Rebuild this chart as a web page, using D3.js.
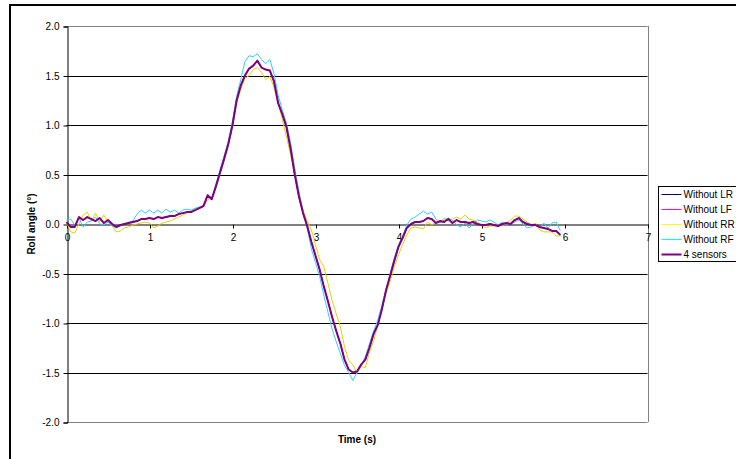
<!DOCTYPE html>
<html>
<head>
<meta charset="utf-8">
<script src="https://cdn.jsdelivr.net/npm/d3@7"></script>
<style>
  body { margin: 0; background: #fff; }
  svg { display: block; font-family: Arial, "Liberation Sans", sans-serif; }
</style>
</head>
<body>
<svg id="chart" width="736" height="459"></svg>
<script>
// Sample step of the recorded signals (s)
const dt = 0.05;

// Roll angle (deg), one value every 0.05 s from t = 0
const fourSensors = [
  0.02, -0.03, -0.03, 0.07, 0.04, 0.07, 0.05, 0.03, 0.06, 0.01,
  0.04, 0.00, -0.03, -0.01, 0.00, 0.01, 0.02, 0.03, 0.05, 0.05,
  0.06, 0.05, 0.07, 0.06, 0.07, 0.08, 0.08, 0.10, 0.11, 0.12,
  0.12, 0.14, 0.16, 0.18, 0.29, 0.25, 0.38, 0.52, 0.66, 0.81,
  1.00, 1.25, 1.40, 1.50, 1.57, 1.60, 1.65, 1.58, 1.56, 1.55,
  1.44, 1.22, 1.11, 0.98, 0.76, 0.50, 0.28, 0.11, -0.02, -0.18,
  -0.32, -0.46, -0.63, -0.78, -0.94, -1.08, -1.21, -1.37, -1.47, -1.50,
  -1.49, -1.42, -1.37, -1.25, -1.11, -1.02, -0.86, -0.67, -0.52, -0.37,
  -0.23, -0.14, -0.04, 0.00, 0.02, 0.02, 0.03, 0.06, 0.05, 0.01,
  0.03, 0.02, 0.05, 0.01, 0.04, 0.02, 0.02, 0.01, 0.02, 0.00,
  -0.01, -0.01, 0.00, -0.01, -0.02, 0.00, 0.01, 0.00, 0.04, 0.06,
  0.02, 0.00, -0.01, -0.01, -0.03, -0.04, -0.05, -0.07, -0.07, -0.11
];

const withoutRF = [
  0.04, 0.05, -0.01, 0.06, -0.03, 0.02, 0.03, 0.07, 0.00, -0.01,
  0.02, -0.02, -0.04, -0.02, 0.00, 0.02, 0.03, 0.10, 0.14, 0.11,
  0.14, 0.11, 0.14, 0.11, 0.15, 0.12, 0.14, 0.11, 0.14, 0.15,
  0.14, 0.16, 0.17, 0.19, 0.28, 0.27, 0.40, 0.55, 0.69, 0.84,
  1.04, 1.29, 1.46, 1.64, 1.70, 1.69, 1.72, 1.66, 1.62, 1.66,
  1.52, 1.30, 1.15, 1.02, 0.82, 0.56, 0.33, 0.13, -0.04, -0.25,
  -0.39, -0.53, -0.72, -0.89, -1.06, -1.19, -1.31, -1.43, -1.50, -1.58,
  -1.50, -1.43, -1.34, -1.21, -1.08, -0.97, -0.82, -0.66, -0.50, -0.34,
  -0.21, -0.12, -0.01, 0.05, 0.07, 0.10, 0.13, 0.10, 0.12, 0.05,
  0.01, 0.04, 0.06, 0.04, -0.01, -0.03, 0.01, -0.04, 0.00, 0.04,
  0.03, 0.02, 0.04, 0.02, -0.01, 0.02, -0.01, 0.00, 0.02, 0.04,
  0.00, -0.04, -0.03, -0.01, -0.04, 0.01, -0.04, 0.01, 0.02, -0.07
];

const withoutRR = [
  0.02, -0.08, -0.09, 0.00, 0.09, 0.12, 0.03, 0.11, 0.02, 0.09,
  0.02, -0.02, -0.08, -0.07, -0.04, -0.03, -0.01, 0.00, 0.01, 0.02,
  0.01, -0.04, -0.02, 0.01, 0.02, 0.03, 0.05, 0.07, 0.09, 0.11,
  0.13, 0.15, 0.17, 0.18, 0.24, 0.27, 0.36, 0.50, 0.64, 0.79,
  0.97, 1.22, 1.36, 1.47, 1.50, 1.56, 1.58, 1.53, 1.46, 1.49,
  1.38, 1.22, 1.06, 0.88, 0.70, 0.50, 0.30, 0.14, 0.03, -0.06,
  -0.21, -0.36, -0.43, -0.60, -0.77, -0.91, -1.04, -1.24, -1.38, -1.42,
  -1.51, -1.44, -1.45, -1.30, -1.18, -1.03, -0.87, -0.70, -0.58, -0.43,
  -0.31, -0.21, -0.11, -0.04, -0.03, -0.04, -0.05, 0.02, -0.01, 0.02,
  0.01, 0.06, 0.03, 0.05, 0.07, 0.05, 0.09, 0.05, 0.04, 0.02,
  -0.01, -0.04, -0.02, -0.02, -0.01, -0.02, 0.01, 0.04, 0.08, 0.08,
  0.05, 0.02, -0.01, 0.01, -0.06, -0.08, -0.08, -0.08, -0.12, -0.12
];

// LR and LF runs are indistinguishable from the 4-sensor run in the picture
const withoutLR = fourSensors;
const withoutLF = fourSensors;

const seriesNames = ["Without LR", "Without LF", "Without RR", "Without RF", "4 sensors"];
const seriesColors = ["#000080", "#FF00FF", "#D8D800", "#33CCFF", "#800080"];
const legendColors = ["#000080", "#FF00FF", "#FFFF00", "#00FFFF", "#800080"];
const seriesWidths = [1, 1, 1, 1, 2];
const seriesValues = [withoutLR, withoutLF, withoutRR, withoutRF, fourSensors];

const xTicks = [0, 1, 2, 3, 4, 5, 6, 7];
const yTicks = [-2.0, -1.5, -1.0, -0.5, 0.0, 0.5, 1.0, 1.5, 2.0];

const svg = d3.select("#chart");

// outer chart frame
svg.append("rect")
  .attr("x", 10).attr("y", 5)
  .attr("width", 740).attr("height", 470)
  .attr("fill", "#fff")
  .attr("stroke", "#000")
  .attr("stroke-width", 2);

const plot = { left: 66.5, right: 647.5, top: 26, bottom: 422 };

const x = d3.scaleLinear().domain([0, 7]).range([plot.left, plot.right]);
const y = d3.scaleLinear().domain([-2, 2]).range([plot.bottom, plot.top]);

// gridlines
svg.append("g")
  .selectAll("line")
  .data(yTicks.filter(v => v !== 0))
  .join("line")
  .attr("x1", plot.left).attr("x2", plot.right)
  .attr("y1", d => Math.round(y(d)) + 0.5)
  .attr("y2", d => Math.round(y(d)) + 0.5)
  .attr("stroke", d => Math.abs(d) === 2 ? "#808080" : "#000")
  .attr("stroke-width", 1);

// plot area right border
svg.append("line")
  .attr("x1", Math.round(plot.right) + 0.5).attr("x2", Math.round(plot.right) + 0.5)
  .attr("y1", y(2)).attr("y2", y(-2))
  .attr("stroke", "#808080");

// y axis (plain hyphen for negative labels)
const yAxis = d3.axisLeft(y)
  .tickValues(yTicks)
  .tickFormat(d => d.toFixed(1))
  .tickSize(4)
  .tickPadding(4);

svg.append("g")
  .attr("transform", `translate(${Math.round(plot.left) + 0.5},0.5)`)
  .call(yAxis)
  .call(g => g.selectAll("text").attr("font-size", 10).attr("fill", "#000").attr("font-family", null))
  .call(g => g.selectAll("line,path").attr("stroke", "#000"));

// x axis at y = 0
const xAxis = d3.axisBottom(x)
  .tickValues(xTicks)
  .tickFormat(d => String(d))
  .tickSizeInner(4)
  .tickSizeOuter(0)
  .tickPadding(5);

svg.append("g")
  .attr("transform", `translate(0.5,${Math.round(y(0)) + 0.5})`)
  .call(xAxis)
  .call(g => g.selectAll("text").attr("font-size", 10).attr("fill", "#000").attr("font-family", null))
  .call(g => g.selectAll("line,path").attr("stroke", "#000"));

// series lines
const line = d3.line()
  .x((d, i) => x(i * dt))
  .y(d => y(d));

svg.append("g")
  .selectAll("path")
  .data(seriesValues)
  .join("path")
  .attr("d", d => line(d))
  .attr("fill", "none")
  .attr("stroke", (d, i) => seriesColors[i])
  .attr("stroke-width", (d, i) => seriesWidths[i])
  .attr("stroke-linejoin", "round");

// axis titles
svg.append("text")
  .attr("x", 357).attr("y", 443)
  .attr("text-anchor", "middle")
  .attr("font-size", 10)
  .attr("font-weight", "bold")
  .text("Time (s)");

svg.append("text")
  .attr("transform", `translate(35,${y(0)}) rotate(-90)`)
  .attr("text-anchor", "middle")
  .attr("font-size", 10)
  .attr("font-weight", "bold")
  .text("Roll angle (°)");

// legend
const legend = svg.append("g").attr("transform", "translate(658.5,186.5)");

legend.append("rect")
  .attr("width", 90).attr("height", 75)
  .attr("fill", "#fff")
  .attr("stroke", "#000");

const item = legend.selectAll("g.item")
  .data(seriesNames)
  .join("g")
  .attr("class", "item")
  .attr("transform", (d, i) => `translate(0,${8 + i * 15})`);

item.append("line")
  .attr("x1", 3).attr("x2", 23)
  .attr("stroke", (d, i) => legendColors[i])
  .attr("stroke-width", (d, i) => seriesWidths[i]);

item.append("text")
  .attr("x", 25).attr("y", 3.5)
  .attr("font-size", 10)
  .text(d => d);
</script>
</body>
</html>
